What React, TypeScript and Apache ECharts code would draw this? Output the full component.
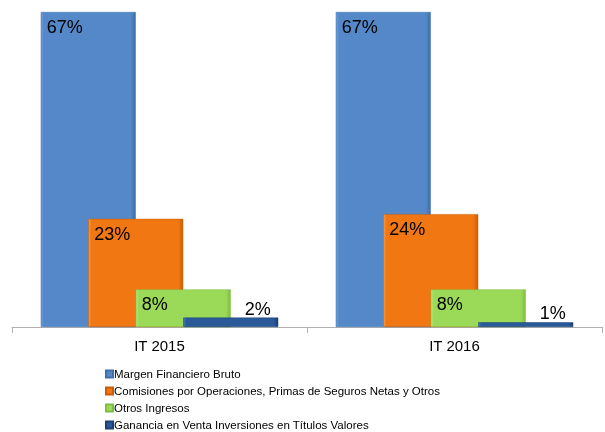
import React, { useEffect, useRef } from "react";
import * as echarts from "echarts";

const categories = ["IT 2015", "IT 2016"];
const seriesNames = [
  "Margen Financiero Bruto",
  "Comisiones por Operaciones, Primas de Seguros Netas y Otros",
  "Otros Ingresos",
  "Ganancia en Venta Inversiones en Títulos Valores",
];
const margen = [67, 67];
const comisiones = [23, 24];
const otros = [8, 8];
const ganancia = [2, 1];

const palette = [
  { light: "#6f9fdc", main: "#5588c8", dark: "#3f6ea8" },
  { light: "#f79a4a", main: "#f07712", dark: "#c85f08" },
  { light: "#b4e67c", main: "#9ada58", dark: "#7fbd40" },
  { light: "#4a7abc", main: "#2b5a9a", dark: "#1b3f72" },
];

function grad(p: { light: string; main: string; dark: string }) {
  return new echarts.graphic.LinearGradient(0, 0, 1, 0, [
    { offset: 0, color: p.light },
    { offset: 0.03, color: p.main },
    { offset: 0.95, color: p.main },
    { offset: 1, color: p.dark },
  ]);
}

export default function App() {
  const ref = useRef<HTMLDivElement>(null);
  useEffect(() => {
    if (!ref.current) return;
    const chart = echarts.init(ref.current, undefined, { renderer: "svg" });
    const values = [margen, comisiones, otros, ganancia];
    const series = values.map((data, i) => ({
      name: seriesNames[i],
      type: "bar" as const,
      data,
      barWidth: 95,
      barGap: "-50%",
      itemStyle: {
        color: grad(palette[i]),
        borderColor: palette[i].dark,
        borderWidth: 0.5,
      },
      label:
        i < 3
          ? {
              show: true,
              position: "insideTopLeft",
              distance: 6,
              formatter: "{c}%",
              color: "#000",
              fontFamily: "Liberation Sans, Arial, sans-serif",
              fontSize: 18,
            }
          : {
              show: true,
              position: ["92%", -18],
              align: "right",
              formatter: "{c}%",
              color: "#000",
              fontFamily: "Liberation Sans, Arial, sans-serif",
              fontSize: 18,
            },
    }));
    chart.setOption({
      animation: false,
      grid: { left: 12, right: 3, top: 12, bottom: 105 },
      legend: {
        orient: "vertical",
        left: 100,
        top: 363,
        height: 200,
        padding: [5, 5, 0, 5],
        itemWidth: 7,
        itemHeight: 7,
        itemGap: 5,
        icon: "rect",
        textStyle: {
          fontFamily: "Liberation Sans, Arial, sans-serif",
          fontSize: 11.5,
          color: "#000",
          padding: [0, 0, 0, -4],
        },
        data: seriesNames,
      },
      xAxis: {
        type: "category",
        data: categories,
        axisLine: { lineStyle: { color: "#b0b0b0" } },
        axisTick: { show: true, length: 6, lineStyle: { color: "#b0b0b0" } },
        axisLabel: {
          margin: 11,
          color: "#000",
          fontFamily: "Liberation Sans, Arial, sans-serif",
          fontSize: 15,
        },
      },
      yAxis: {
        type: "value",
        min: 0,
        max: 67,
        show: false,
        splitLine: { show: false },
      },
      series,
    });
    return () => chart.dispose();
  }, []);
  return (
    <div
      ref={ref}
      style={{ position: "fixed", left: 0, top: 0, width: 605, height: 432 }}
    />
  );
}
